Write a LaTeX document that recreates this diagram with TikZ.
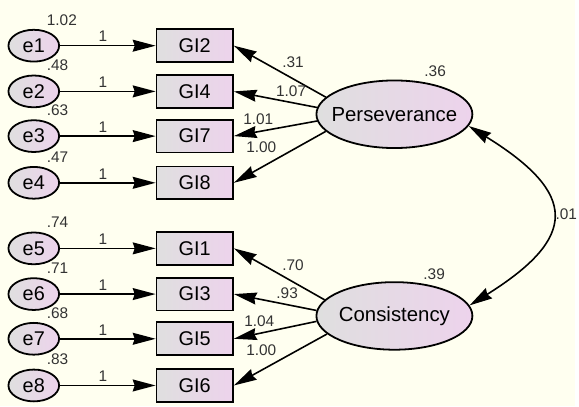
\documentclass[tikz,border=0pt]{standalone}
\usepackage{fontspec}
\setmainfont{Liberation Sans}
\usepackage{color,xcolor}
\usetikzlibrary{arrows.meta,shapes.geometric}
\definecolor{bg}{HTML}{FFFFF0}
\definecolor{gr}{HTML}{DFDFDF}
\definecolor{pk}{HTML}{EDD3EC}
\definecolor{tx}{HTML}{333333}
\tikzset{
  err/.style={ellipse,draw,line width=1.8pt,left color=gr,right color=pk,minimum width=51pt,minimum height=32pt,inner sep=0pt,font=\fontsize{20}{22}\selectfont},
  obs/.style={rectangle,draw,line width=1.8pt,left color=gr,right color=pk,minimum width=77pt,minimum height=33pt,inner sep=0pt,font=\fontsize{20}{22}\selectfont},
  lat/.style={ellipse,draw,line width=1.8pt,left color=gr,right color=pk,minimum width=157pt,minimum height=68pt,inner xsep=-10pt,inner ysep=0pt,font=\fontsize{20.5}{22}\selectfont},
  lbl/.style={text=tx,font=\fontsize{15.5}{17}\selectfont,inner sep=1pt},
  arr/.style={-{Stealth[length=23pt,width=12pt,inset=2pt]},line width=1.6pt}
}
\begin{document}
\begin{tikzpicture}[x=1pt,y=-1pt]
            \fill[bg] (0,0) rectangle (579,409);
            \foreach \i/\g/\y/\v in {1/2/46/1.02,2/4/92/.48,3/7/137/.63,4/8/184/.47,5/1/250/.74,6/3/296/.71,7/5/341/.68,8/6/388/.83}{
              \node[err] (e\i) at (34,\y) {e\i};
              \node[obs] (gi\g) at (196,\y) {GI\g};
              \draw[arr] (e\i) -- node[lbl,above=2pt,pos=0.45]{1} (gi\g);
              \node[lbl,anchor=west] at (46,\y-26) {\v};
            }
            \node[lat] (per) at (397,115) {Perseverance};
            \node[lat] (con) at (397,318) {Consistency};
            \node[lbl] at (438,72) {.36};
            \node[lbl] at (437,276) {.39};
            \draw[arr] (per.166) -- (gi2.east);
            \draw[arr] (per.175) -- (gi4.east);
            \draw[arr] (per.185) -- (gi7.east);
            \draw[arr] (per.194) -- (gi8.east);
            \node[lbl] at (295,63) {.31};
            \node[lbl] at (293,92) {1.07};
            \node[lbl] at (260,120) {1.01};
            \node[lbl] at (263,148) {1.00};
            \draw[arr] (con.167) -- (gi1.east);
            \draw[arr] (con.176) -- (gi3.east);
            \draw[arr] (con.184) -- (gi5.east);
            \draw[arr] (con.195) -- (gi6.east);
            \node[lbl] at (295,267) {.70};
            \node[lbl] at (289,295) {.93};
            \node[lbl] at (261,323) {1.04};
            \node[lbl] at (263,352) {1.00};
            \draw[arr,{Stealth[length=23pt,width=12pt,inset=2pt]}-{Stealth[length=23pt,width=12pt,inset=2pt]}] (per.-9) .. controls (582,195) and (582,239) .. (con.8);
            \node[lbl,anchor=west] at (558,216) {.01};
\end{tikzpicture}
\end{document}
